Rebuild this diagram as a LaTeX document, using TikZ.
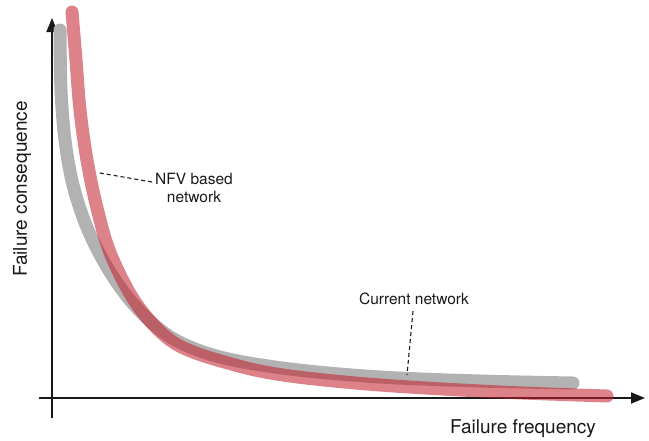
\documentclass[tikz,border=0pt]{standalone}
\usepackage{fontspec}
\setmainfont{TeX Gyre Heros}
\usetikzlibrary{arrows.meta}
\definecolor{curvegray}{RGB}{178,178,178}
\definecolor{curvered}{RGB}{196,32,46}
\definecolor{inkdark}{RGB}{25,25,25}
\tikzset{
  axisline/.style={line width=1.8pt, inkdark, -{Triangle[length=14pt,width=11pt]}},
  curveline/.style={line width=13pt, line cap=round, line join=round},
  leader/.style={line width=1.1pt, inkdark, dash pattern=on 4pt off 3pt},
  axislabel/.style={font=\fontsize{19}{23}\selectfont, text=inkdark, inner sep=0pt},
  notelabel/.style={font=\fontsize{15.5}{18}\selectfont, text=inkdark, align=center, inner sep=0pt}
}
\begin{document}
\begin{tikzpicture}[x=1pt,y=-1pt]
\useasboundingbox (0,0) rectangle (649,440);

% axes
\coordinate (ybot) at (52,418);
\coordinate (ytop) at (52,18);
\coordinate (xleft) at (39,398);
\coordinate (xright) at (645,398);
\draw[axisline] (ybot) -- (ytop);
\draw[axisline] (xleft) -- (xright);

% current network
\draw[curveline, curvegray] plot[smooth, tension=0.55] coordinates {
  (60,30) (61,90) (65,140) (73,185) (88,230) (110,272) (136,307)
  (172,338) (220,357) (290,369) (380,377) (480,381) (573,383)};

% NFV based network
\draw[curveline, curvered, opacity=0.56] plot[smooth, tension=0.55] coordinates {
  (72,12) (76,60) (80,110) (87,160) (97,208) (111,255) (138,306)
  (176,344) (235,365) (290,376) (380,385) (500,392) (607,396)};

% labels
\node[axislabel, anchor=base] (xlab) at (523,433) {Failure frequency};
\node[axislabel, anchor=base, rotate=90] (ylab) at (27,189) {Failure consequence};

\node[notelabel] (nfv) at (194,188) {NFV based\\network};
\coordinate (nfvtip) at (100,173);
\draw[leader] (nfv.west) ++(-3,-6) -- (nfvtip);

\node[notelabel] (cur) at (414,299) {Current network};
\coordinate (curtip) at (407,375);
\draw[leader] (cur.south) ++(-1,6) -- (curtip);
\end{tikzpicture}
\end{document}
